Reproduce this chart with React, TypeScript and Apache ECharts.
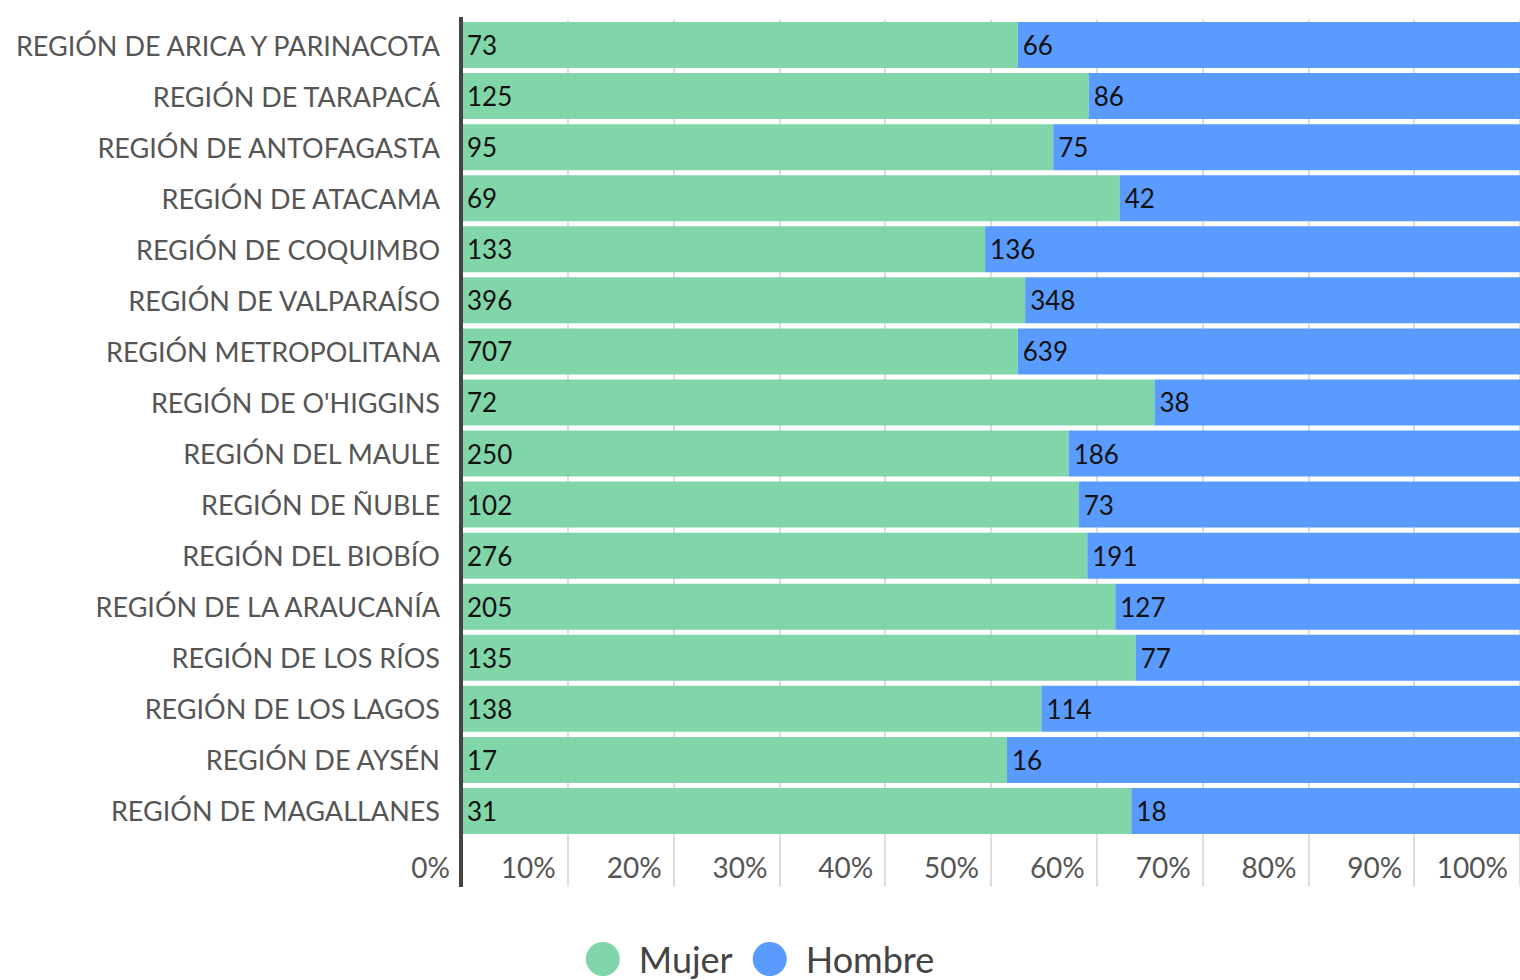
import React, { useEffect, useRef } from "react";
import * as echarts from "echarts";

const categories = [
  "REGIÓN DE ARICA Y PARINACOTA",
  "REGIÓN DE TARAPACÁ",
  "REGIÓN DE ANTOFAGASTA",
  "REGIÓN DE ATACAMA",
  "REGIÓN DE COQUIMBO",
  "REGIÓN DE VALPARAÍSO",
  "REGIÓN METROPOLITANA",
  "REGIÓN DE O'HIGGINS",
  "REGIÓN DEL MAULE",
  "REGIÓN DE ÑUBLE",
  "REGIÓN DEL BIOBÍO",
  "REGIÓN DE LA ARAUCANÍA",
  "REGIÓN DE LOS RÍOS",
  "REGIÓN DE LOS LAGOS",
  "REGIÓN DE AYSÉN",
  "REGIÓN DE MAGALLANES",
];
const mujer = [73, 125, 95, 69, 133, 396, 707, 72, 250, 102, 276, 205, 135, 138, 17, 31];
const hombre = [66, 86, 75, 42, 136, 348, 639, 38, 186, 73, 191, 127, 77, 114, 16, 18];
const seriesNames = ["Mujer", "Hombre"];
const colors = ["#80D6A8", "#5A9BFF"];

const FONT = "Lato";

export default function App() {
  const ref = useRef<HTMLDivElement>(null);
  useEffect(() => {
    if (!ref.current) return;
    const chart = echarts.init(ref.current, null, { renderer: "svg" });
    const totals = mujer.map((m, i) => m + hombre[i]);
    const raw = [mujer, hombre];
    const series = raw.map((arr, si) => ({
      name: seriesNames[si],
      type: "bar",
      stack: "total",
      barCategoryGap: "10%",
      itemStyle: { color: colors[si] },
      label: {
        show: true,
        position: "insideLeft",
        distance: 5,
        color: "#111",
        fontFamily: FONT,
        fontSize: 26,
        formatter: (p: any) => String(arr[p.dataIndex]),
      },
      data: arr.map((v, i) => (v / totals[i]) * 100),
    }));
    const gridLeft = 462;
    const gridTop = 19.5;
    const gridBottom = 980 - 836.5;
    chart.setOption({
      animation: false,
      grid: {
        left: gridLeft,
        right: 0,
        top: gridTop,
        bottom: gridBottom,
        containLabel: false,
        outerBoundsMode: "none",
      },
      legend: {
        data: seriesNames,
        bottom: -2,
        left: "center",
        icon: "circle",
        itemWidth: 34,
        itemHeight: 34,
        itemGap: 20,
        textStyle: { fontFamily: FONT, fontSize: 36, color: "#444", padding: [0, 0, 0, 14] },
      },
      xAxis: {
        type: "value",
        min: 0,
        max: 100,
        interval: 10,
        axisLine: { show: false },
        axisTick: { show: true, length: 50, lineStyle: { color: "#dddddd", width: 2 } },
        splitLine: { show: true, lineStyle: { color: "#dddddd", width: 2 } },
        axisLabel: {
          formatter: "{value}%",
          align: "right",
          margin: 16,
          padding: [0, 12, 0, 0],
          fontFamily: FONT,
          fontSize: 28,
          color: "#555",
        },
      },
      yAxis: {
        type: "category",
        inverse: true,
        data: categories,
        axisLine: { show: false },
        axisTick: { show: false },
        axisLabel: { margin: 22, fontFamily: FONT, fontSize: 27, color: "#555" },
      },
      graphic: [
        {
          type: "line",
          shape: { x1: 461, y1: 17, x2: 461, y2: 887 },
          style: { stroke: "#444", lineWidth: 4 },
          z: 100,
        },
      ],
      series,
    });
    return () => chart.dispose();
  }, []);
  return (
    <div
      ref={ref}
      style={{ position: "fixed", left: 0, top: 0, width: 1520, height: 980, background: "#fff" }}
    />
  );
}
